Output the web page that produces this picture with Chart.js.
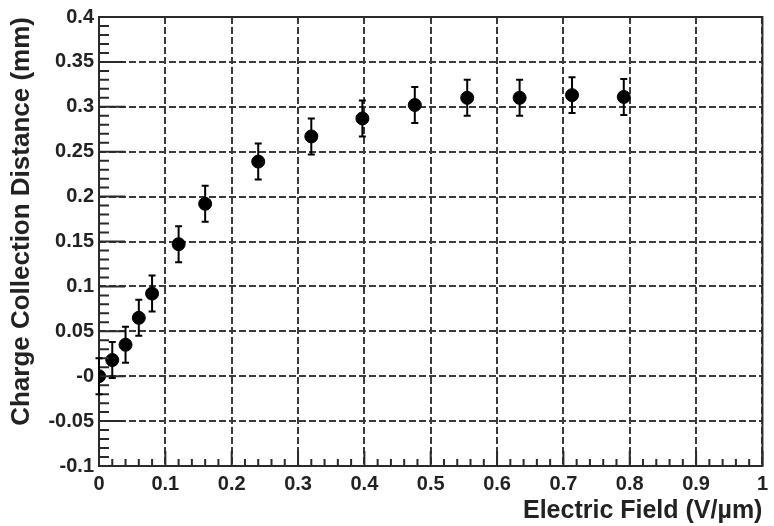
<!DOCTYPE html>
<html>
<head>
<meta charset="utf-8">
<script src="https://cdn.jsdelivr.net/npm/chart.js@4/dist/chart.umd.min.js"></script>
<style>
  html, body { margin: 0; padding: 0; background: #fff; }
  #wrap { width: 774px; height: 526px; }
</style>
</head>
<body>
<div id="wrap"><canvas id="chart" width="774" height="526"></canvas></div>
<script>
// data
const fieldValues = [0, 0.02, 0.04, 0.06, 0.08, 0.12, 0.16, 0.24, 0.32, 0.397, 0.476, 0.555, 0.634, 0.713, 0.791];
const distances   = [0.0, 0.018, 0.035, 0.065, 0.092, 0.147, 0.192, 0.239, 0.267, 0.287, 0.302, 0.31, 0.31, 0.313, 0.311];
const distErrors  = [0.02, 0.02, 0.02, 0.02, 0.02, 0.02, 0.02, 0.02, 0.02, 0.02, 0.02, 0.02, 0.02, 0.02, 0.02];

const xTickLabels = ["0", "0.1", "0.2", "0.3", "0.4", "0.5", "0.6", "0.7", "0.8", "0.9", "1"];
const yTickLabels = ["-0.1", "-0.05", "-0", "0.05", "0.1", "0.15", "0.2", "0.25", "0.3", "0.35", "0.4"];

const FONT = "'Liberation Sans', Arial, Helvetica, sans-serif";
const INK = "#000";
const GRID = "#3a3a3a";

// error bars + ROOT style frame and inside ticks
const rootFrame = {
  id: "rootFrame",
  afterDatasetsDraw(chart) {
    const ctx = chart.ctx;
    const xs = chart.scales.x, ys = chart.scales.y;
    const a = chart.chartArea;
    ctx.save();

    // frame
    ctx.strokeStyle = "#2a2a2a";
    ctx.lineWidth = 2;
    ctx.strokeRect(a.left, a.top, a.right - a.left, a.bottom - a.top);

    // x ticks (inside, from bottom)
    ctx.beginPath();
    for (let k = 0; k <= 50; k++) {
      const px = xs.getPixelForValue(k * 0.02);
      const len = (k % 5 === 0) ? 15 : 7;
      ctx.moveTo(px, a.bottom); ctx.lineTo(px, a.bottom - len);
    }
    // y ticks (inside, from left)
    for (let k = 0; k <= 50; k++) {
      const py = ys.getPixelForValue(-0.1 + k * 0.01);
      const len = (k % 5 === 0) ? 26 : 10;
      ctx.moveTo(a.left, py); ctx.lineTo(a.left + len, py);
    }
    ctx.stroke();

    // error bars
    const meta = chart.getDatasetMeta(0);
    ctx.strokeStyle = INK;
    ctx.lineWidth = 2;
    ctx.beginPath();
    meta.data.forEach((pt, i) => {
      const x = pt.x;
      const yTop = ys.getPixelForValue(distances[i] + distErrors[i]);
      const yBot = ys.getPixelForValue(distances[i] - distErrors[i]);
      ctx.moveTo(x, yTop); ctx.lineTo(x, yBot);
      ctx.moveTo(x - 3.5, yTop); ctx.lineTo(x + 3.5, yTop);
      ctx.moveTo(x - 3.5, yBot); ctx.lineTo(x + 3.5, yBot);
    });
    ctx.stroke();
    ctx.restore();
  }
};

new Chart(document.getElementById("chart"), {
  type: "scatter",
  data: {
    datasets: [{
      data: fieldValues.map((x, i) => ({ x: x, y: distances[i] })),
      backgroundColor: INK,
      borderColor: INK,
      pointRadius: 6.5,
      pointHoverRadius: 6.5,
      pointStyle: "circle",
      showLine: false
    }]
  },
  plugins: [rootFrame],
  options: {
    responsive: false,
    animation: false,
    events: [],
    layout: { padding: { top: 16, right: 7, left: 0, bottom: 0 } },
    plugins: { legend: { display: false }, tooltip: { enabled: false } },
    scales: {
      x: {
        type: "linear",
        min: 0, max: 1,
        afterFit(scale) { scale.height = 60; },
        ticks: {
          stepSize: 0.1,
          padding: 6,
          color: "#222",
          font: { family: FONT, size: 20, weight: "bold" },
          maxRotation: 0,
          callback: (v, i) => xTickLabels[i]
        },
        grid: { color: GRID, lineWidth: 2, drawTicks: false },
        border: { display: false, dash: [7, 3] },
        title: {
          display: true,
          text: "Electric Field (V/\u00b5m)",
          align: "end",
          color: "#222",
          font: { family: FONT, size: 25, weight: "bold" },
          padding: { top: 0, bottom: 0 }
        }
      },
      y: {
        type: "linear",
        min: -0.1, max: 0.4,
        afterFit(scale) { scale.width = 99; },
        ticks: {
          stepSize: 0.05,
          padding: 5,
          color: "#222",
          font: { family: FONT, size: 20, weight: "bold" },
          callback: (v, i) => yTickLabels[i]
        },
        grid: { color: GRID, lineWidth: 2, drawTicks: false },
        border: { display: false, dash: [7, 3] },
        title: {
          display: true,
          text: "Charge Collection Distance (mm)",
          align: "end",
          color: "#222",
          font: { family: FONT, size: 26, weight: "bold" },
          padding: { top: 6, bottom: 0 }
        }
      }
    }
  }
});
</script>
</body>
</html>
